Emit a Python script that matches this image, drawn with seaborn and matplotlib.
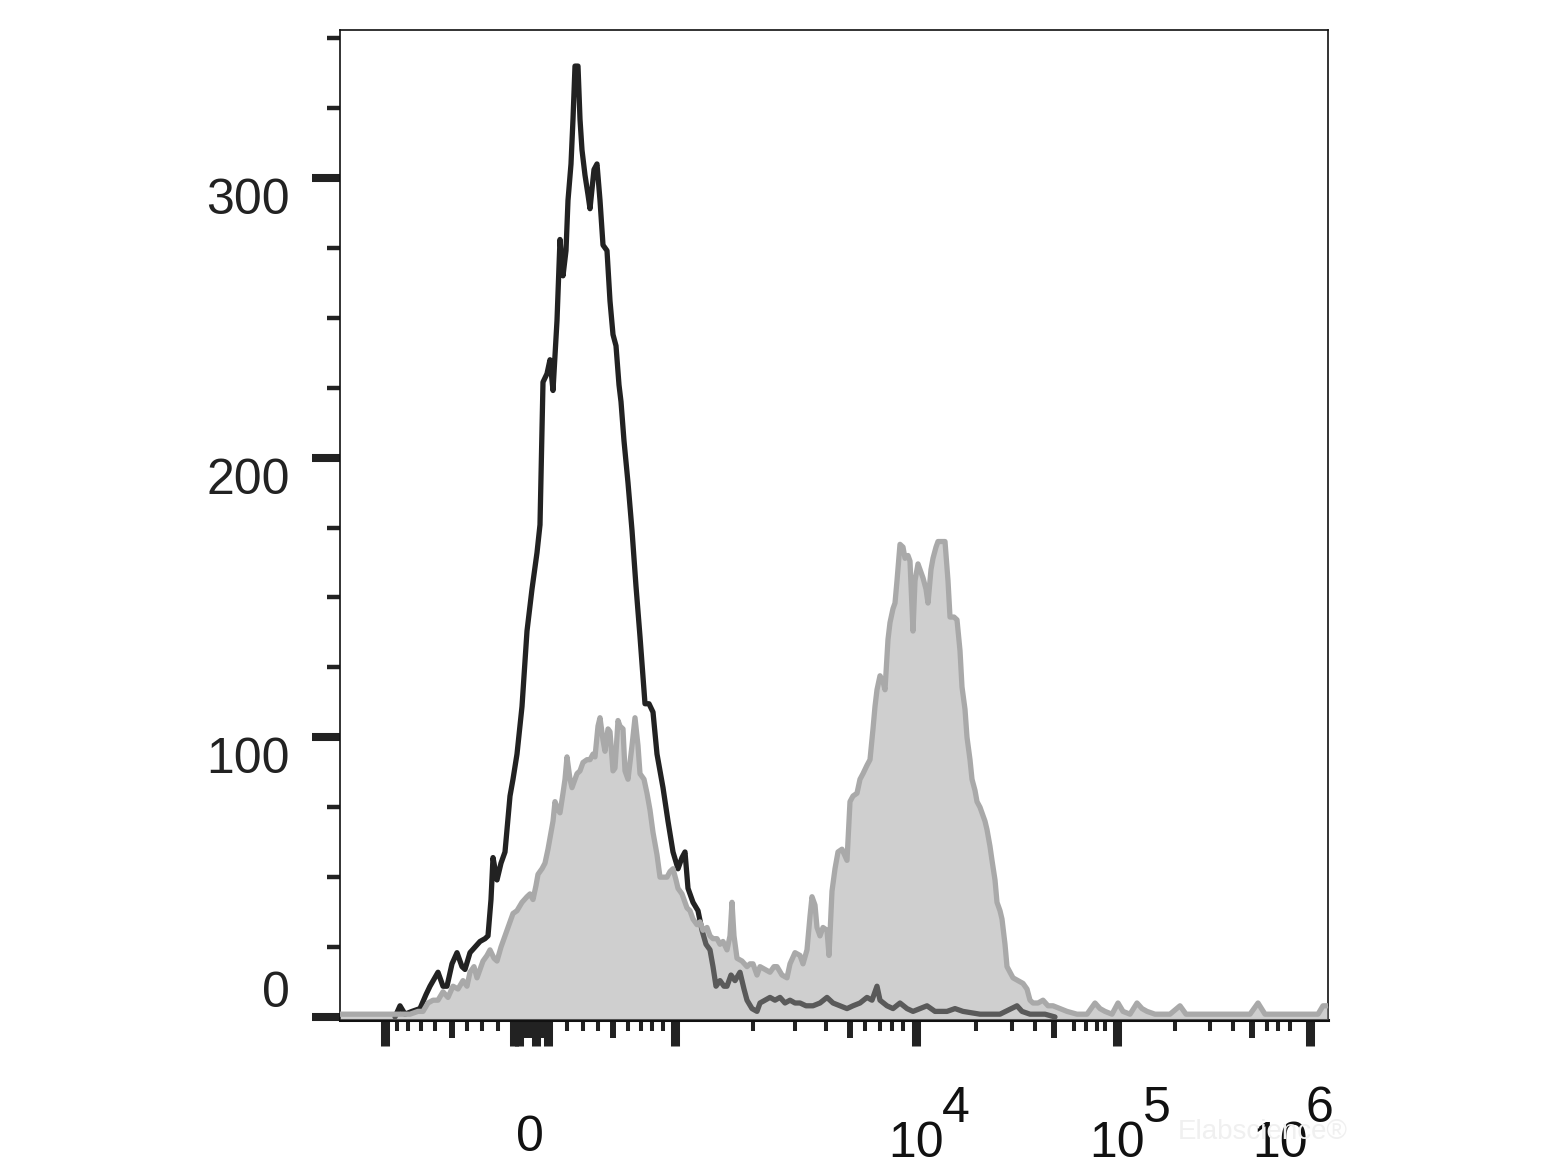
import matplotlib
matplotlib.use("Agg")
import matplotlib.pyplot as plt
import matplotlib.transforms as mtransforms
import seaborn as sns

# channel positions along the (biexponential) x axis, 0..988 display units
ctrl_x = [55, 60, 65, 72, 80, 86, 90, 98, 103, 107, 112, 117, 122, 125, 130, 135, 140, 145, 148, 151,
          153, 157, 161, 165, 170, 173, 177, 182, 187, 192, 197, 200, 203, 207, 210, 213, 217, 220, 223, 226,
          228, 231, 233, 235, 238, 240, 242, 245, 248, 250, 254, 257, 260, 263, 267, 270, 273, 276, 279, 281,
          284, 288, 292, 296, 300, 305, 309, 313, 317, 323, 328, 333, 338, 342, 345, 348, 353, 358, 362, 366,
          370, 373, 376, 380, 384, 387, 391, 395, 400, 404, 407, 412, 417, 420, 425, 430, 435, 440, 445, 450,
          455, 460, 466, 473, 480, 487, 493, 500, 507, 513, 520, 527, 532, 537, 540, 547, 553, 560, 567, 573,
          580, 587, 595, 607, 615, 623, 640, 660, 677, 682, 690, 705, 715]
ctrl_y = [0, 4, 1, 2, 3, 8, 11, 16, 11, 11, 19, 23, 18, 17, 23, 25, 27, 28, 29, 42,
          57, 49, 55, 59, 79, 85, 94, 111, 138, 153, 166, 176, 227, 230, 235, 224, 249, 278, 265, 274,
          292, 305, 321, 340, 340, 321, 310, 301, 294, 289, 303, 305, 292, 276, 274, 256, 244, 240, 226, 220,
          206, 191, 174, 154, 136, 112, 112, 109, 94, 82, 70, 59, 53, 57, 59, 46, 41, 38, 31, 26,
          24, 18, 11, 13, 11, 11, 15, 13, 16, 10, 6, 3, 2, 5, 6, 7, 6, 7, 5, 6,
          5, 5, 4, 4, 5, 7, 5, 4, 3, 4, 5, 7, 6, 11, 6, 4, 3, 5, 3, 2,
          3, 4, 2, 2, 3, 2, 1, 1, 4, 2, 1, 1, 0]

stain_x = [0, 60, 70, 78, 83, 88, 93, 98, 103, 108, 113, 118, 123, 127, 130, 134, 137, 140, 143, 147,
           150, 154, 157, 161, 165, 169, 173, 177, 182, 187, 190, 193, 196, 198, 202, 205, 208, 210, 213, 215,
           218, 220, 223, 225, 227, 230, 232, 235, 237, 240, 243, 247, 250, 253, 255, 258, 260, 263, 265, 268,
           270, 273, 275, 278, 280, 283, 285, 288, 292, 295, 298, 300, 304, 307, 310, 313, 317, 320, 323, 327,
           330, 333, 336, 338, 342, 347, 350, 353, 357, 360, 363, 367, 370, 373, 377, 380, 383, 387, 390, 392,
           394, 397, 402, 407, 410, 413, 417, 420, 425, 430, 434, 437, 442, 447, 450, 455, 460, 463, 467, 470,
           472, 475, 477, 480, 483, 487, 489, 492, 495, 498, 502, 507, 510, 513, 517, 520, 523, 527, 530, 533,
           535, 537, 540, 543, 545, 548, 550, 553, 555, 557, 560, 563, 565, 568, 570, 573, 575, 578, 580, 583,
           586, 588, 591, 593, 596, 598, 602, 605, 608, 610, 614, 617, 620, 622, 625, 627, 630, 632, 635, 637,
           640, 642, 645, 647, 650, 652, 655, 657, 660, 662, 665, 667, 670, 673, 678, 683, 687, 690, 693, 698,
           703, 708, 713, 720, 727, 737, 747, 755, 760, 765, 772, 778, 783, 790, 797, 802, 807, 815, 830, 840,
           846, 910, 918, 925, 978, 983, 988]
stain_y = [1, 1, 1, 2, 2, 5, 6, 6, 9, 7, 11, 10, 13, 11, 16, 18, 14, 17, 20, 22,
           24, 21, 20, 25, 29, 33, 37, 38, 41, 43, 44, 42, 47, 51, 53, 55, 60, 64, 70, 77,
           74, 73, 80, 85, 93, 85, 82, 85, 87, 88, 91, 92, 92, 94, 93, 104, 107, 99, 95, 103,
           102, 88, 89, 106, 104, 103, 88, 85, 97, 107, 97, 87, 85, 80, 74, 66, 58, 50, 50, 50,
           52, 53, 49, 46, 44, 39, 38, 35, 33, 34, 31, 32, 29, 28, 28, 26, 27, 24, 29, 41,
           29, 21, 20, 18, 19, 19, 15, 18, 17, 16, 18, 18, 15, 14, 19, 23, 22, 19, 24, 36,
           43, 40, 32, 29, 32, 31, 22, 45, 53, 59, 60, 56, 77, 79, 80, 85, 87, 90, 92, 103,
           111, 117, 122, 120, 117, 135, 141, 146, 148, 156, 169, 168, 164, 165, 163, 138, 156, 162, 160, 157,
           153, 148, 160, 164, 168, 170, 170, 170, 156, 143, 143, 142, 131, 118, 110, 100, 92, 85, 81, 77,
           75, 73, 70, 67, 61, 56, 49, 41, 38, 35, 26, 18, 16, 14, 13, 12, 10, 6, 5, 5,
           6, 4, 4, 3, 2, 1, 1, 5, 3, 2, 1, 5, 2, 1, 5, 3, 2, 1, 1, 4,
           1, 1, 5, 1, 1, 4, 4]

# axis ticks and labels
y_major = [0, 100, 200, 300]
y_minor = [25, 50, 75, 125, 150, 175, 225, 250, 275, 325, 350]
y_labels = ["0", "100", "200", "300"]
x_major = [45, 174, 179, 196, 208, 335, 576, 777, 970]
x_medium = [112, 185, 190, 202, 273, 510, 714, 912]
x_minor = [57, 68, 81, 95, 127, 142, 158, 227, 243, 258, 288, 301, 312, 323, 413, 455, 486,
           525, 540, 552, 563, 636, 672, 695, 734, 746, 757, 765, 835, 870, 893, 927, 938, 950]
x_zero = 190
x_decades = [576, 777, 940]
x_exponents = ["4", "5", "6"]

sns.set_style("ticks")
plt.rcParams["font.family"] = ["Liberation Sans", "DejaVu Sans"]

fig = plt.figure(figsize=(15.62, 11.71), dpi=100)
ax = fig.add_axes([340 / 1562, 1 - 1019.5 / 1171, 988 / 1562, 989.5 / 1171])
y_bottom = -0.9

# control (open black histogram)
sns.lineplot(x=ctrl_x, y=ctrl_y, ax=ax, color="#222222", linewidth=3.8,
             sort=False, estimator=None, zorder=2)
# stained sample (filled grey histogram, drawn over the control)
ax.fill_between(stain_x, y_bottom, stain_y, color="#9a9a9a", alpha=0.47, linewidth=0, zorder=3)
sns.lineplot(x=stain_x, y=stain_y, ax=ax, color="#a9a9a9", linewidth=3.8,
             sort=False, estimator=None, zorder=4)

ax.set_xlim(0, 988)
ax.set_ylim(y_bottom, 352.9)
ax.set_xlabel("")
ax.set_ylabel("")

for side in ["top", "right", "left"]:
    ax.spines[side].set_linewidth(1.2)
    ax.spines[side].set_color("#111111")
ax.spines["bottom"].set_linewidth(2.2)
ax.spines["bottom"].set_color("#111111")

ax.set_yticks(y_major)
ax.set_yticks(y_minor, minor=True)
ax.tick_params(axis="y", which="major", length=20, width=5.8, color="#222222", labelleft=False)
ax.tick_params(axis="y", which="minor", length=9.4, width=3.2, color="#222222")

x_small = sorted(x_medium + x_minor)
ax.set_xticks(x_major)
ax.set_xticks(x_small, minor=True)
ax.tick_params(axis="x", which="major", length=18.7, width=6.5, color="#222222", labelbottom=False)
ax.tick_params(axis="x", which="minor", length=8, width=2.9, color="#222222")
for tick, pos in zip(ax.xaxis.get_minor_ticks(len(x_small)), x_small):
    if pos in x_medium:
        tick.tick1line.set_markersize(13)
        tick.tick1line.set_markeredgewidth(4.3)

# y tick labels
ytrans = mtransforms.blended_transform_factory(fig.transFigure, ax.transData)
for val, lab in zip(y_major, y_labels):
    ax.text(290 / 1562, val, lab, transform=ytrans, ha="right",
            va="bottom" if val == 0 else "top", fontsize=36, color="#222222")

# x tick labels
xtrans = mtransforms.blended_transform_factory(ax.transData, fig.transFigure)
ax.text(x_zero, 1 - 1115 / 1171, "0", transform=xtrans, ha="center", va="top",
        fontsize=36, color="#111111")
for pos, exp in zip(x_decades, x_exponents):
    ax.text(pos, 1 - 1121 / 1171, "10", transform=xtrans, ha="center", va="top",
            fontsize=36, color="#111111")
    ax.text(pos + 26, 1 - 1086 / 1171, exp, transform=xtrans, ha="left", va="top",
            fontsize=36, color="#111111")

# faint watermark
fig.text(1178 / 1562, 1 - 1132 / 1171, "Elabscience\u00ae", ha="left", va="center",
         fontsize=20, color="#f0f0f0")

fig.savefig("out.png", dpi=100)
